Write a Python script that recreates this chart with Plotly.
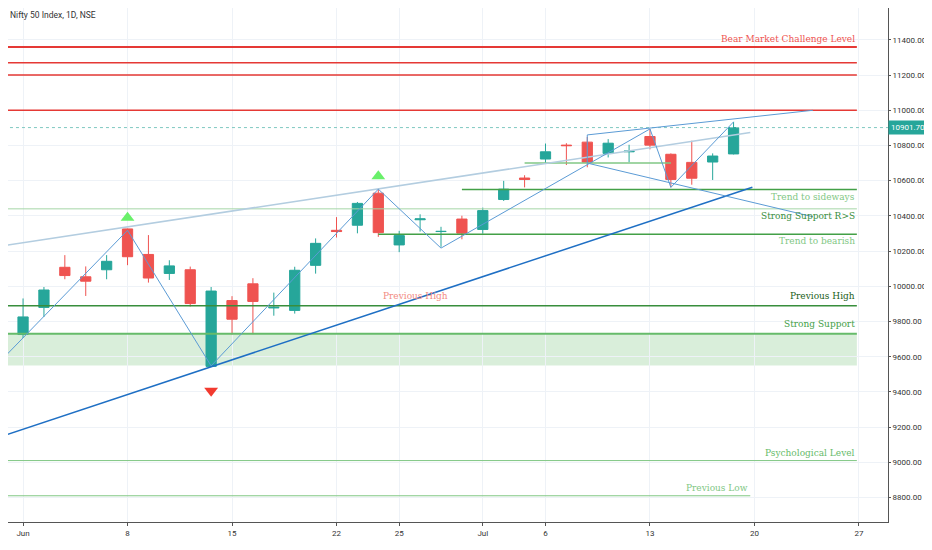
import plotly.graph_objects as go

# trading-day index: Jun 1 = 0
days = list(range(-1, 35))
opens = [9422, 9726, 9880, 10108, 10054, 10094, 10326, 10181, 10073, 10094, 9545,
         9919, 10014, 9877, 9863, 10119, 10318, 10347, 10529, 10235, 10378, 10311,
         10382, 10323, 10493, 10615, 10723, 10802, 10819, 10755, 10764, 10851,
         10750, 10704, 10706, 10752]
highs = [9598, 9931, 9996, 10177, 10113, 10177, 10328, 10291, 10148, 10112, 9996,
         9944, 10046, 9964, 10111, 10272, 10393, 10479, 10554, 10315, 10409, 10338,
         10401, 10447, 10599, 10631, 10811, 10813, 10848, 10836, 10804, 10894,
         10755, 10827, 10755, 10934]
lows = [9376, 9706, 9826, 10040, 9945, 10040, 10120, 10021, 10036, 9885, 9544,
        9726, 9728, 9833, 9845, 10072, 10277, 10301, 10281, 10194, 10311, 10224,
        10267, 10299, 10485, 10562, 10695, 10689, 10676, 10732, 10705, 10778,
        10562, 10577, 10604, 10749]
closes = [9580, 9826, 9979, 10061, 10029, 10142, 10168, 10047, 10116, 9902, 9973,
          9813, 9914, 9881, 10091, 10244, 10311, 10471, 10305, 10288, 10383, 10312,
          10302, 10430, 10552, 10607, 10764, 10799, 10705, 10813, 10768, 10802,
          10607, 10614, 10740, 10901.7]

tick_pos = [0, 5, 10, 15, 18, 22, 25, 30, 35, 40]
tick_text = ["Jun", "8", "15", "22", "25", "Jul", "6", "13", "20", "27"]
y_ticks = list(range(8800, 11601, 200))

# horizontal levels: (value, x_start, x_end, color, width)
levels = [
    (11360, -1.2, 39.9, "#e53935", 2),
    (11270, -1.2, 39.9, "#e53935", 1.5),
    (11200, -1.2, 39.9, "#e53935", 1.5),
    (11000, -1.2, 39.9, "#e53935", 1.5),
    (10440, -1.2, 39.9, "#a5d6a7", 1),
    (10550, 21, 39.9, "#43a047", 1.5),
    (10295, 17, 39.9, "#43a047", 1.5),
    (10700, 24, 31, "#81c784", 1.5),
    (9890, -1.2, 39.9, "#388e3c", 1.5),
    (9730, -1.0, 39.9, "#66bb6a", 2),
    (9010, -1.2, 39.9, "#81c784", 1),
    (8810, -1.2, 34.8, "#81c784", 1),
]
labels = [
    ("Bear Market Challenge Level", 11405, "#ef5350"),
    ("Trend to sideways", 10510, "#81c784"),
    ("Strong Support R>S", 10400, "#388e3c"),
    ("Trend to bearish", 10255, "#81c784"),
    ("Previous High", 9945, "#1b5e20"),
    ("Strong Support", 9785, "#43a047"),
    ("Psychological Level", 9055, "#66bb6a"),
]

zig_x = [-1, 5, 9, 17, 20, 30, 31, 34]
zig_y = [9585, 10318, 9548, 10552, 10217, 10894, 10562, 10934]

fig = go.Figure()

# support zone
fig.add_shape(type="rect", x0=-1.2, x1=39.9, y0=9550, y1=9730,
              fillcolor="rgba(129,199,132,0.3)", line_width=0, layer="below")

for v, a, b, c, w in levels:
    fig.add_trace(go.Scatter(x=[a, b], y=[v, v], mode="lines",
                             line=dict(color=c, width=w), hoverinfo="skip"))

# last price dotted
fig.add_trace(go.Scatter(x=[-1.2, 41.8], y=[10901.7, 10901.7], mode="lines",
                         line=dict(color="#7fc8c0", width=1, dash="dot")))

# trend lines
fig.add_trace(go.Scatter(x=[-1.1, 34.9], y=[9145, 10563], mode="lines",
                         line=dict(color="#1e6fc4", width=1.5)))
fig.add_trace(go.Scatter(x=[-1.1, 34.8], y=[10228, 10874], mode="lines",
                         line=dict(color="#b3cde0", width=1.5)))
fig.add_trace(go.Scatter(x=zig_x, y=zig_y, mode="lines",
                         line=dict(color="#5b9bd5", width=1)))
fig.add_trace(go.Scatter(x=[27, 27, 37.8], y=[10700, 10860, 11000], mode="lines",
                         line=dict(color="#5b9bd5", width=1)))
fig.add_trace(go.Scatter(x=[27, 37.8], y=[10700, 10395], mode="lines",
                         line=dict(color="#5b9bd5", width=1)))

fig.add_trace(go.Candlestick(
    x=days, open=opens, high=highs, low=lows, close=closes,
    increasing=dict(line=dict(color="#26a69a", width=1), fillcolor="#26a69a"),
    decreasing=dict(line=dict(color="#ef5350", width=1), fillcolor="#ef5350"),
    whiskerwidth=0))

fig.add_trace(go.Scatter(x=[5, 17], y=[10390, 10625], mode="markers",
                         marker=dict(symbol="triangle-up", size=12, color="#69f06a")))
fig.add_trace(go.Scatter(x=[9], y=[9406], mode="markers",
                         marker=dict(symbol="triangle-down", size=12, color="#f23a2f")))

for t, v, c in labels:
    fig.add_annotation(x=39.9, y=v, text=t, showarrow=False, xanchor="right",
                       font=dict(family="DejaVu Serif", size=9, color=c))
fig.add_annotation(x=34.8, y=8855, text="Previous Low", showarrow=False, xanchor="right",
                   font=dict(family="DejaVu Serif", size=9, color="#81c784"))
fig.add_annotation(x=18.8, y=9945, text="Previous High", showarrow=False,
                   font=dict(family="DejaVu Serif", size=9, color="#f28b82"))
fig.add_annotation(x=1, y=10901.7, xref="paper", yref="y", text="10901.70", showarrow=False,
                   xanchor="left", yanchor="middle", bgcolor="#26a69a", borderpad=2,
                   font=dict(family="Roboto", size=8, color="white"))
fig.add_annotation(x=0.0, y=1.0, xref="paper", yref="paper", text="Nifty 50 Index, 1D, NSE",
                   showarrow=False, xanchor="left", yanchor="top",
                   font=dict(family="Roboto", size=8.5, color="#333"))

fig.update_layout(
    width=924, height=542, margin=dict(l=0, r=44, t=0, b=28),
    plot_bgcolor="white", paper_bgcolor="white", showlegend=False,
    xaxis=dict(range=[-0.72, 41.39], tickvals=tick_pos, ticktext=tick_text,
               showgrid=True, gridcolor="#eef2f7", zeroline=False, automargin=False,
               rangeslider=dict(visible=False), ticks="outside", ticklen=3,
               tickcolor="#555", showline=True, linecolor="#555",
               tickfont=dict(family="Roboto", size=8, color="#333")),
    yaxis=dict(range=[8661, 11581], side="right", tickvals=y_ticks,
               ticktext=[f"{v}.00" for v in y_ticks], showgrid=True, automargin=False,
               gridcolor="#eef2f7", zeroline=False, ticks="outside", ticklen=2,
               tickcolor="#555", showline=True, linecolor="#555",
               tickfont=dict(family="Roboto", size=8, color="#333")),
)

fig.write_html("out.html")
